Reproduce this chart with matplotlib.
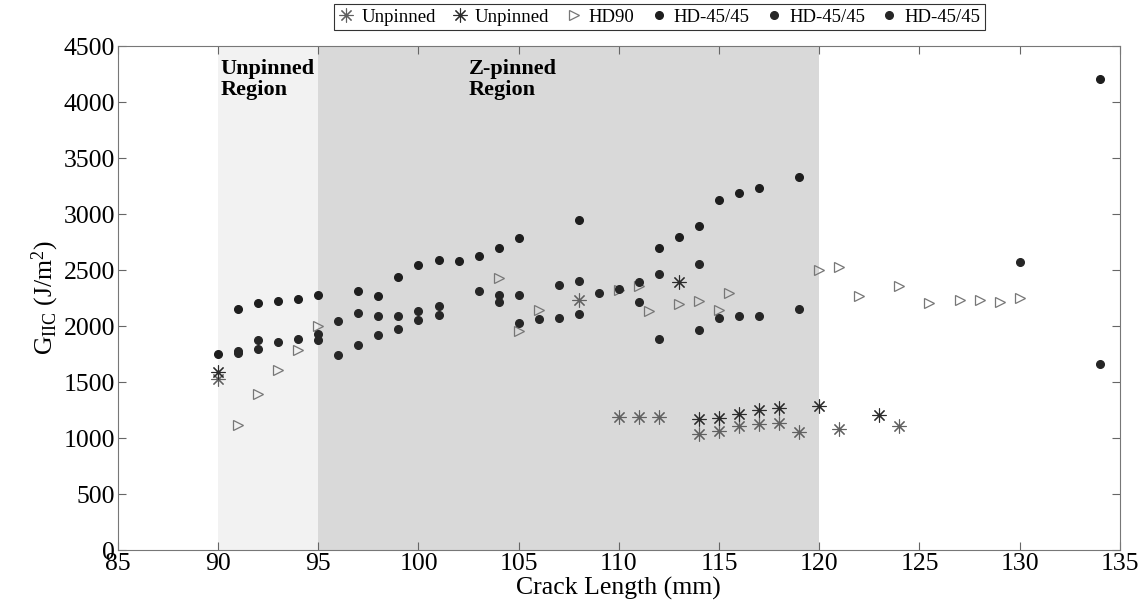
import matplotlib
matplotlib.use("Agg")
import matplotlib.pyplot as plt

plt.rcParams['font.family'] = ['Liberation Serif', 'DejaVu Serif']
plt.rcParams['mathtext.fontset'] = 'custom'
plt.rcParams['mathtext.rm'] = 'Liberation Serif'
plt.rcParams['mathtext.it'] = 'Liberation Serif:italic'

# Unpinned specimens (two series)
unp1_x = [90, 108, 110, 111, 112, 114, 115, 116, 117, 118, 119, 121, 124]
unp1_y = [1530, 2232, 1190, 1190, 1190, 1042, 1066, 1107, 1131, 1137, 1057, 1086, 1110]
unp2_x = [90, 113, 114, 115, 116, 117, 118, 120, 123]
unp2_y = [1590, 2396, 1176, 1182, 1214, 1250, 1271, 1286, 1211]

# HD90
hd90_x = [91, 92, 93, 94, 95, 104, 105, 106, 110, 111, 111.5, 113, 114, 115, 115.5,
          120, 121, 122, 124, 125.5, 127, 128, 129, 130]
hd90_y = [1116, 1396, 1613, 1786, 2005, 2432, 1961, 2146, 2320, 2360, 2137, 2194, 2223,
          2143, 2301, 2500, 2530, 2268, 2357, 2203, 2232, 2232, 2217, 2250]

# HD-45/45 (three specimens)
hda_x = [90, 91, 92, 93, 94, 95, 97, 98, 99, 100, 101, 102, 103, 104, 105, 108,
         112, 113, 114, 115, 116, 117, 119, 134]
hda_y = [1756, 2158, 2203, 2223, 2241, 2283, 2315, 2271, 2438, 2548, 2587, 2578, 2631,
         2699, 2789, 2946, 2694, 2798, 2899, 3131, 3190, 3238, 3333, 4206]
hdb_x = [91, 92, 93, 94, 95, 96, 97, 98, 99, 100, 101, 103, 104, 105, 107, 108,
         109, 110, 111, 112, 114, 130]
hdb_y = [1780, 1875, 1860, 1890, 1935, 2045, 2122, 2092, 2095, 2140, 2185, 2313, 2280,
         2283, 2366, 2408, 2301, 2336, 2399, 2464, 2554, 2569]
hdc_x = [91, 92, 95, 96, 97, 98, 99, 100, 101, 104, 105, 106, 107, 108, 111, 112,
         114, 115, 116, 117, 119, 134]
hdc_y = [1760, 1801, 1878, 1744, 1830, 1926, 1973, 2060, 2101, 2214, 2030, 2063, 2077,
         2110, 2220, 1890, 1964, 2077, 2089, 2092, 2158, 1661]

fig = plt.figure(figsize=(11.45, 6.08), dpi=100)
ax = fig.add_axes([0.103, 0.095, 0.875, 0.829])

# shaded regions
ax.axvspan(90, 95, color='#f2f2f2', lw=0, zorder=0)
ax.axvspan(95, 120, color='#d9d9d9', lw=0, zorder=0)

ast = (8, 2, 0)
ax.plot(unp1_x, unp1_y, ls='none', marker=ast, ms=10, mew=0.8, color='#606060', label='Unpinned')
ax.plot(unp2_x, unp2_y, ls='none', marker=ast, ms=10, mew=0.8, color='#2a2a2a', label='Unpinned')
ax.plot(hd90_x, hd90_y, ls='none', marker='>', ms=6.5, mew=0.9, mfc='none', mec='#777777', label='HD90')
ax.plot(hda_x, hda_y, ls='none', marker='o', ms=5.5, color='#1e1e1e', label='HD-45/45')
ax.plot(hdb_x, hdb_y, ls='none', marker='o', ms=5.5, color='#262626', label='HD-45/45')
ax.plot(hdc_x, hdc_y, ls='none', marker='o', ms=5.5, color='#262626', label='HD-45/45')

ax.text(90.1, 4390, 'Unpinned\nRegion', fontsize=16, fontweight='bold', va='top', ha='left',
        linespacing=1.1)
ax.text(102.5, 4390, 'Z-pinned\nRegion', fontsize=16, fontweight='bold', va='top', ha='left',
        linespacing=1.1)

ax.set_xlim(85, 135)
ax.set_ylim(0, 4500)
ax.set_xticks(range(85, 136, 5))
ax.set_yticks(range(0, 4501, 500))
ax.tick_params(direction='in', top=True, right=True, labelsize=18.5, length=6,
               color='#666666', pad=2)
for s in ax.spines.values():
    s.set_color('#777777')
ax.set_xlabel('Crack Length (mm)', fontsize=18.5, labelpad=1)
ax.set_ylabel(r'G$_{\mathrm{IIC}}$ (J/m$^{2}$)', fontsize=18.5, labelpad=2)

leg = fig.legend(loc='upper center', bbox_to_anchor=(0.576, 1.0), ncol=6, fontsize=13.5,
                 frameon=True, fancybox=False, edgecolor='black', handlelength=0.8,
                 handletextpad=0.4, columnspacing=0.9, borderpad=0.25, borderaxespad=0.2)
leg.get_frame().set_linewidth(0.8)

fig.savefig('out.png', dpi=100)
